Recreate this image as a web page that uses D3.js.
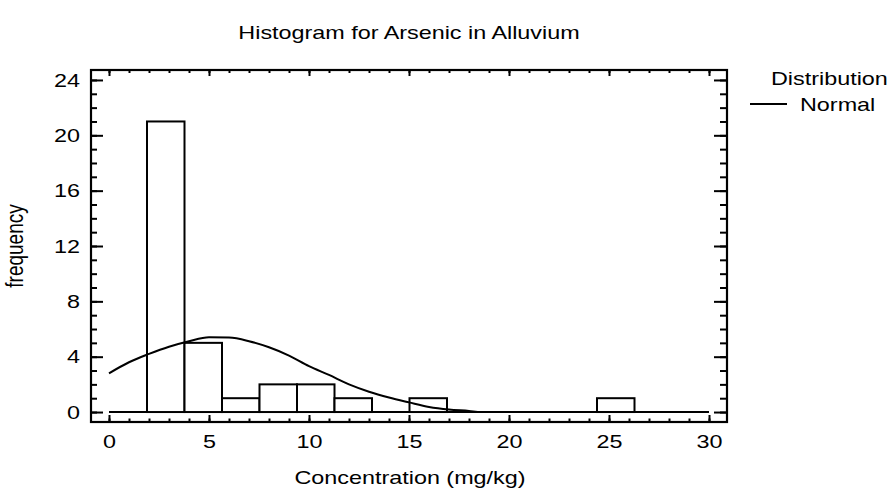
<!DOCTYPE html>
<html>
<head>
<meta charset="utf-8">
<script src="https://cdn.jsdelivr.net/npm/d3@7"></script>
<style>
  html, body { margin: 0; padding: 0; background: #fff; }
  svg { display: block; }
  text { font-family: "Liberation Sans", Arial, Helvetica, sans-serif; fill: #000; }
</style>
</head>
<body>
<script>
// ---------- data ----------
const binEdges = [1.9, 3.775, 5.65, 7.525, 9.4, 11.275, 13.15, 15.025, 16.9, 18.775, 20.65, 22.525, 24.4, 26.275];
const binCounts = [21, 5, 1, 2, 2, 1, 0, 1, 0, 0, 0, 0, 1];
const curveX = [0, 1, 2, 3, 4, 5, 6, 7, 8, 9, 10, 11, 12, 13, 14, 15, 16, 17, 18, 18.6, 20, 22, 24, 26, 28, 30];
const curveY = [2.8, 3.6, 4.2, 4.72, 5.12, 5.4, 5.38, 5.12, 4.68, 4.08, 3.32, 2.68, 2.0, 1.47, 1.05, 0.7, 0.37, 0.18, 0.08, 0, 0, 0, 0, 0, 0, 0];
const xMajorTicks = [0, 5, 10, 15, 20, 25, 30];
const xMinorTicks = d3.range(0, 31, 1);
const yMajorTicks = [0, 4, 8, 12, 16, 20, 24];
const yMinorTicks = d3.range(0, 25, 1);
const titleText = "Histogram for Arsenic in Alluvium";
const xLabel = "Concentration (mg/kg)";
const yLabel = "frequency";
const legendTitle = "Distribution";
const legendItem = "Normal";

// ---------- layout ----------
const W = 891, H = 497;
const F = 19;      // font size
const S = 1.23;    // horizontal text stretch
const svg = d3.select("body").append("svg").attr("width", W).attr("height", H);

const x = d3.scaleLinear().domain([-0.9, 30.9]).range([91, 727]);
const y = d3.scaleLinear().domain([-0.72, 24.72]).range([422, 70]);

// zero baseline
svg.append("line")
  .attr("x1", x(0)).attr("x2", x(30))
  .attr("y1", y(0)).attr("y2", y(0))
  .attr("stroke", "#000").attr("stroke-width", 2);

// bars
const bars = binCounts.map((c, i) => ({x0: binEdges[i], x1: binEdges[i + 1], c})).filter(d => d.c > 0);
svg.append("g").selectAll("rect").data(bars).join("rect")
  .attr("x", d => x(d.x0)).attr("y", d => y(d.c))
  .attr("width", d => x(d.x1) - x(d.x0)).attr("height", d => y(0) - y(d.c))
  .attr("fill", "#fff").attr("stroke", "#000").attr("stroke-width", 2);

// normal curve
const pts = curveX.map((v, i) => [v, curveY[i]]);
svg.append("path").datum(pts)
  .attr("d", d3.line().x(d => x(d[0])).y(d => y(d[1])).curve(d3.curveMonotoneX))
  .attr("fill", "none").attr("stroke", "#000").attr("stroke-width", 2);

// frame
svg.append("rect").attr("x", 91).attr("y", 70).attr("width", 636).attr("height", 352)
  .attr("fill", "none").attr("stroke", "#000").attr("stroke-width", 2.2);

function styleAxis(g) {
  g.select(".domain").remove();
  g.selectAll(".tick line").attr("stroke", "#000").attr("stroke-width", 2);
}

// bottom axis
const gb = svg.append("g").attr("transform", "translate(0,422)");
gb.call(d3.axisBottom(x).tickValues(xMinorTicks).tickSize(-3.5).tickFormat("")).call(styleAxis);
const gb2 = svg.append("g").attr("transform", "translate(0,422)");
gb2.call(d3.axisBottom(x).tickValues(xMajorTicks).tickSize(-7).tickPadding(13).tickFormat(d3.format("d"))).call(styleAxis);
gb2.selectAll("text").attr("font-size", F).attr("font-family", null)
  .attr("transform", `scale(${S},1)`);

// top axis
svg.append("g").attr("transform", "translate(0,70)")
  .call(d3.axisTop(x).tickValues(xMinorTicks).tickSize(-3).tickFormat("")).call(styleAxis);
svg.append("g").attr("transform", "translate(0,70)")
  .call(d3.axisTop(x).tickValues(xMajorTicks).tickSize(-6).tickFormat("")).call(styleAxis);

// left axis
svg.append("g").attr("transform", "translate(91,0)")
  .call(d3.axisLeft(y).tickValues(yMinorTicks).tickSize(-6).tickFormat("")).call(styleAxis);
const gl = svg.append("g").attr("transform", "translate(91,0)");
gl.call(d3.axisLeft(y).tickValues(yMajorTicks).tickSize(-12).tickPadding(11).tickFormat(d3.format("d"))).call(styleAxis);
gl.selectAll("text").attr("font-size", F).attr("font-family", null)
  .attr("x", -11 / S).attr("transform", `scale(${S},1)`);

// right axis
svg.append("g").attr("transform", "translate(727,0)")
  .call(d3.axisRight(y).tickValues(yMinorTicks).tickSize(-7).tickFormat("")).call(styleAxis);
svg.append("g").attr("transform", "translate(727,0)")
  .call(d3.axisRight(y).tickValues(yMajorTicks).tickSize(-13).tickFormat("")).call(styleAxis);

// texts
function stretchedText(tx, ty, str, anchor, rot) {
  return svg.append("text")
    .attr("transform", `translate(${tx},${ty}) scale(${S},1)` + (rot ? ` rotate(${rot})` : ""))
    .attr("text-anchor", anchor).attr("font-size", F).text(str);
}
stretchedText(409, 39, titleText, "middle");
stretchedText(410, 484, xLabel, "middle");
stretchedText(23, 246, yLabel, "middle", -90);
stretchedText(771, 85, legendTitle, "start");
stretchedText(800, 111, legendItem, "start");
svg.append("line").attr("x1", 750).attr("x2", 787).attr("y1", 104).attr("y2", 104)
  .attr("stroke", "#000").attr("stroke-width", 2);
</script>
</body>
</html>
